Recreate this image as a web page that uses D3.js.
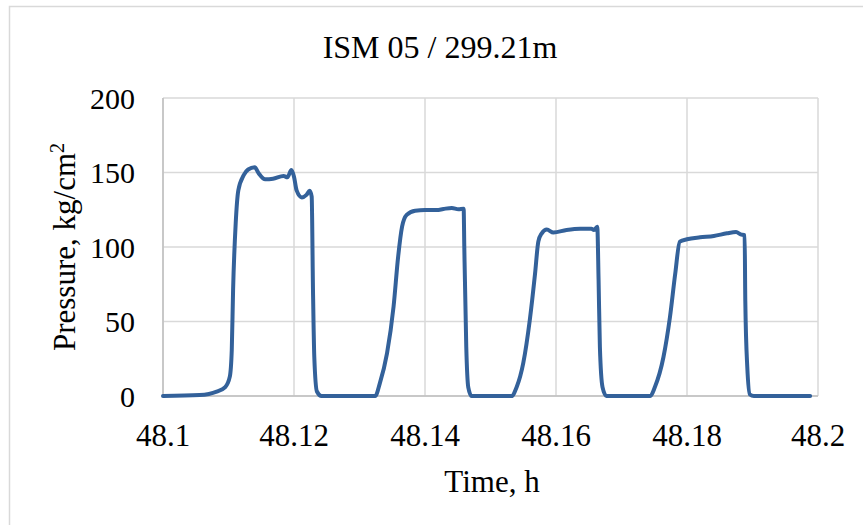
<!DOCTYPE html>
<html>
<head>
<meta charset="utf-8">
<script src="https://cdn.jsdelivr.net/npm/d3@7"></script>
<style>
  body { margin: 0; background: #fff; }
  text { font-family: "Liberation Serif", "Times New Roman", serif; fill: #000; }
</style>
</head>
<body>
<svg width="863" height="525"></svg>
<script>
// time, h
var time = [48.1, 48.1056, 48.1082, 48.1095, 48.1102, 48.1105, 48.1107, 48.1111, 48.1115, 48.1123,
  48.113, 48.114, 48.1146, 48.1156, 48.1168, 48.1184, 48.119, 48.1196, 48.12, 48.1204,
  48.1212, 48.1219, 48.1224, 48.1227, 48.1229, 48.1231, 48.1235, 48.1242,
  48.1324, 48.1331, 48.1342, 48.1352, 48.1359, 48.1365, 48.1372, 48.1385, 48.14, 48.1418,
  48.1428, 48.1441, 48.1451, 48.1459, 48.146, 48.1463, 48.1466, 48.1471,
  48.1532, 48.154, 48.155, 48.156, 48.1568, 48.1573, 48.1578, 48.1586, 48.1596, 48.1616,
  48.1637, 48.1654, 48.1658, 48.1663, 48.1665, 48.1667, 48.1671, 48.1677,
  48.1744, 48.1751, 48.1764, 48.1774, 48.1782, 48.1789, 48.18, 48.182, 48.1841, 48.1861,
  48.1875, 48.1882, 48.1888, 48.1889, 48.1892, 48.1896, 48.1902, 48.1988];
// pressure, kg/cm2
var pressure = [0, 0.7, 3, 6, 13, 31, 71, 116, 138, 148,
  152, 153.5, 149.5, 145.4, 145.8, 147.7, 146.8, 151.7, 147.2, 138,
  133.3, 135, 137.8, 133.8, 71, 26, 3, 0,
  0, 8.5, 28.6, 60, 93.5, 113.6, 121.5, 124.4, 124.8, 124.8,
  125.5, 126.2, 125.3, 125.7, 100, 33, 6, 0,
  0, 6, 22, 51, 82, 103.6, 109, 111.7, 109.7, 111.4,
  112.3, 112.3, 111.4, 113.6, 78, 33, 6, 0,
  0, 6, 26, 53, 82, 103.6, 105.2, 106.5, 107.4, 109.2,
  110, 108.5, 107.8, 64, 19.7, 1, 0, 0];

var xTicks = [48.1, 48.12, 48.14, 48.16, 48.18, 48.2];
var yTicks = [0, 50, 100, 150, 200];

var svg = d3.select("svg"),
    plotLeft = 163, plotRight = 818, plotTop = 98, plotBottom = 396;

// chart border
svg.append("rect")
    .attr("x", 9.5).attr("y", 6.5)
    .attr("width", 900).attr("height", 600)
    .attr("fill", "none").attr("stroke", "#d9d9d9").attr("stroke-width", 1.5);

var x = d3.scaleLinear().domain([48.1, 48.2]).range([plotLeft, plotRight]);
var y = d3.scaleLinear().domain([0, 200]).range([plotBottom, plotTop]);

// grid
svg.append("g").selectAll("line").data(yTicks)
    .enter().append("line")
    .attr("x1", plotLeft).attr("x2", plotRight)
    .attr("y1", function(d) { return y(d); }).attr("y2", function(d) { return y(d); })
    .attr("stroke", "#d9d9d9").attr("stroke-width", 1.5);

svg.append("g").selectAll("line").data(xTicks)
    .enter().append("line")
    .attr("x1", function(d) { return x(d); }).attr("x2", function(d) { return x(d); })
    .attr("y1", plotTop).attr("y2", plotBottom)
    .attr("stroke", "#d9d9d9").attr("stroke-width", 1.5);

// axis lines
svg.append("line").attr("x1", plotLeft).attr("x2", plotLeft).attr("y1", plotTop).attr("y2", plotBottom)
    .attr("stroke", "#bfbfbf").attr("stroke-width", 1.5);
svg.append("line").attr("x1", plotLeft).attr("x2", plotRight).attr("y1", plotBottom).attr("y2", plotBottom)
    .attr("stroke", "#bfbfbf").attr("stroke-width", 1.5);

// tick labels
svg.append("g").selectAll("text").data(yTicks)
    .enter().append("text")
    .attr("x", 135).attr("y", function(d) { return y(d); })
    .attr("dy", "0.35em").attr("text-anchor", "end")
    .style("font-size", "30px")
    .text(function(d) { return d; });

svg.append("g").selectAll("text").data(xTicks)
    .enter().append("text")
    .attr("x", function(d) { return x(d); }).attr("y", 435)
    .attr("dy", "0.35em").attr("text-anchor", "middle")
    .style("font-size", "31px")
    .text(function(d) { return d3.format("")(d); });

// line
var line = d3.line()
    .x(function(d) { return x(d[0]); })
    .y(function(d) { return y(d[1]); })
    .curve(d3.curveMonotoneX);

svg.append("path")
    .datum(d3.zip(time, pressure))
    .attr("d", line)
    .attr("fill", "none")
    .attr("stroke", "#33619a")
    .attr("stroke-width", 4)
    .attr("stroke-linejoin", "round")
    .attr("stroke-linecap", "round");

// titles
svg.append("text").attr("x", 440).attr("y", 47).attr("dy", "0.35em")
    .attr("text-anchor", "middle").style("font-size", "32px")
    .text("ISM 05 / 299.21m");

svg.append("text").attr("x", 492).attr("y", 481).attr("dy", "0.35em")
    .attr("text-anchor", "middle").style("font-size", "31px")
    .text("Time, h");

var yl = svg.append("text")
    .attr("transform", "translate(64,247) rotate(-90)")
    .attr("dy", "0.35em").attr("text-anchor", "middle")
    .style("font-size", "31px");
yl.append("tspan").text("Pressure, kg/cm");
yl.append("tspan").attr("baseline-shift", "super").style("font-size", "20px").text("2");
</script>
</body>
</html>
